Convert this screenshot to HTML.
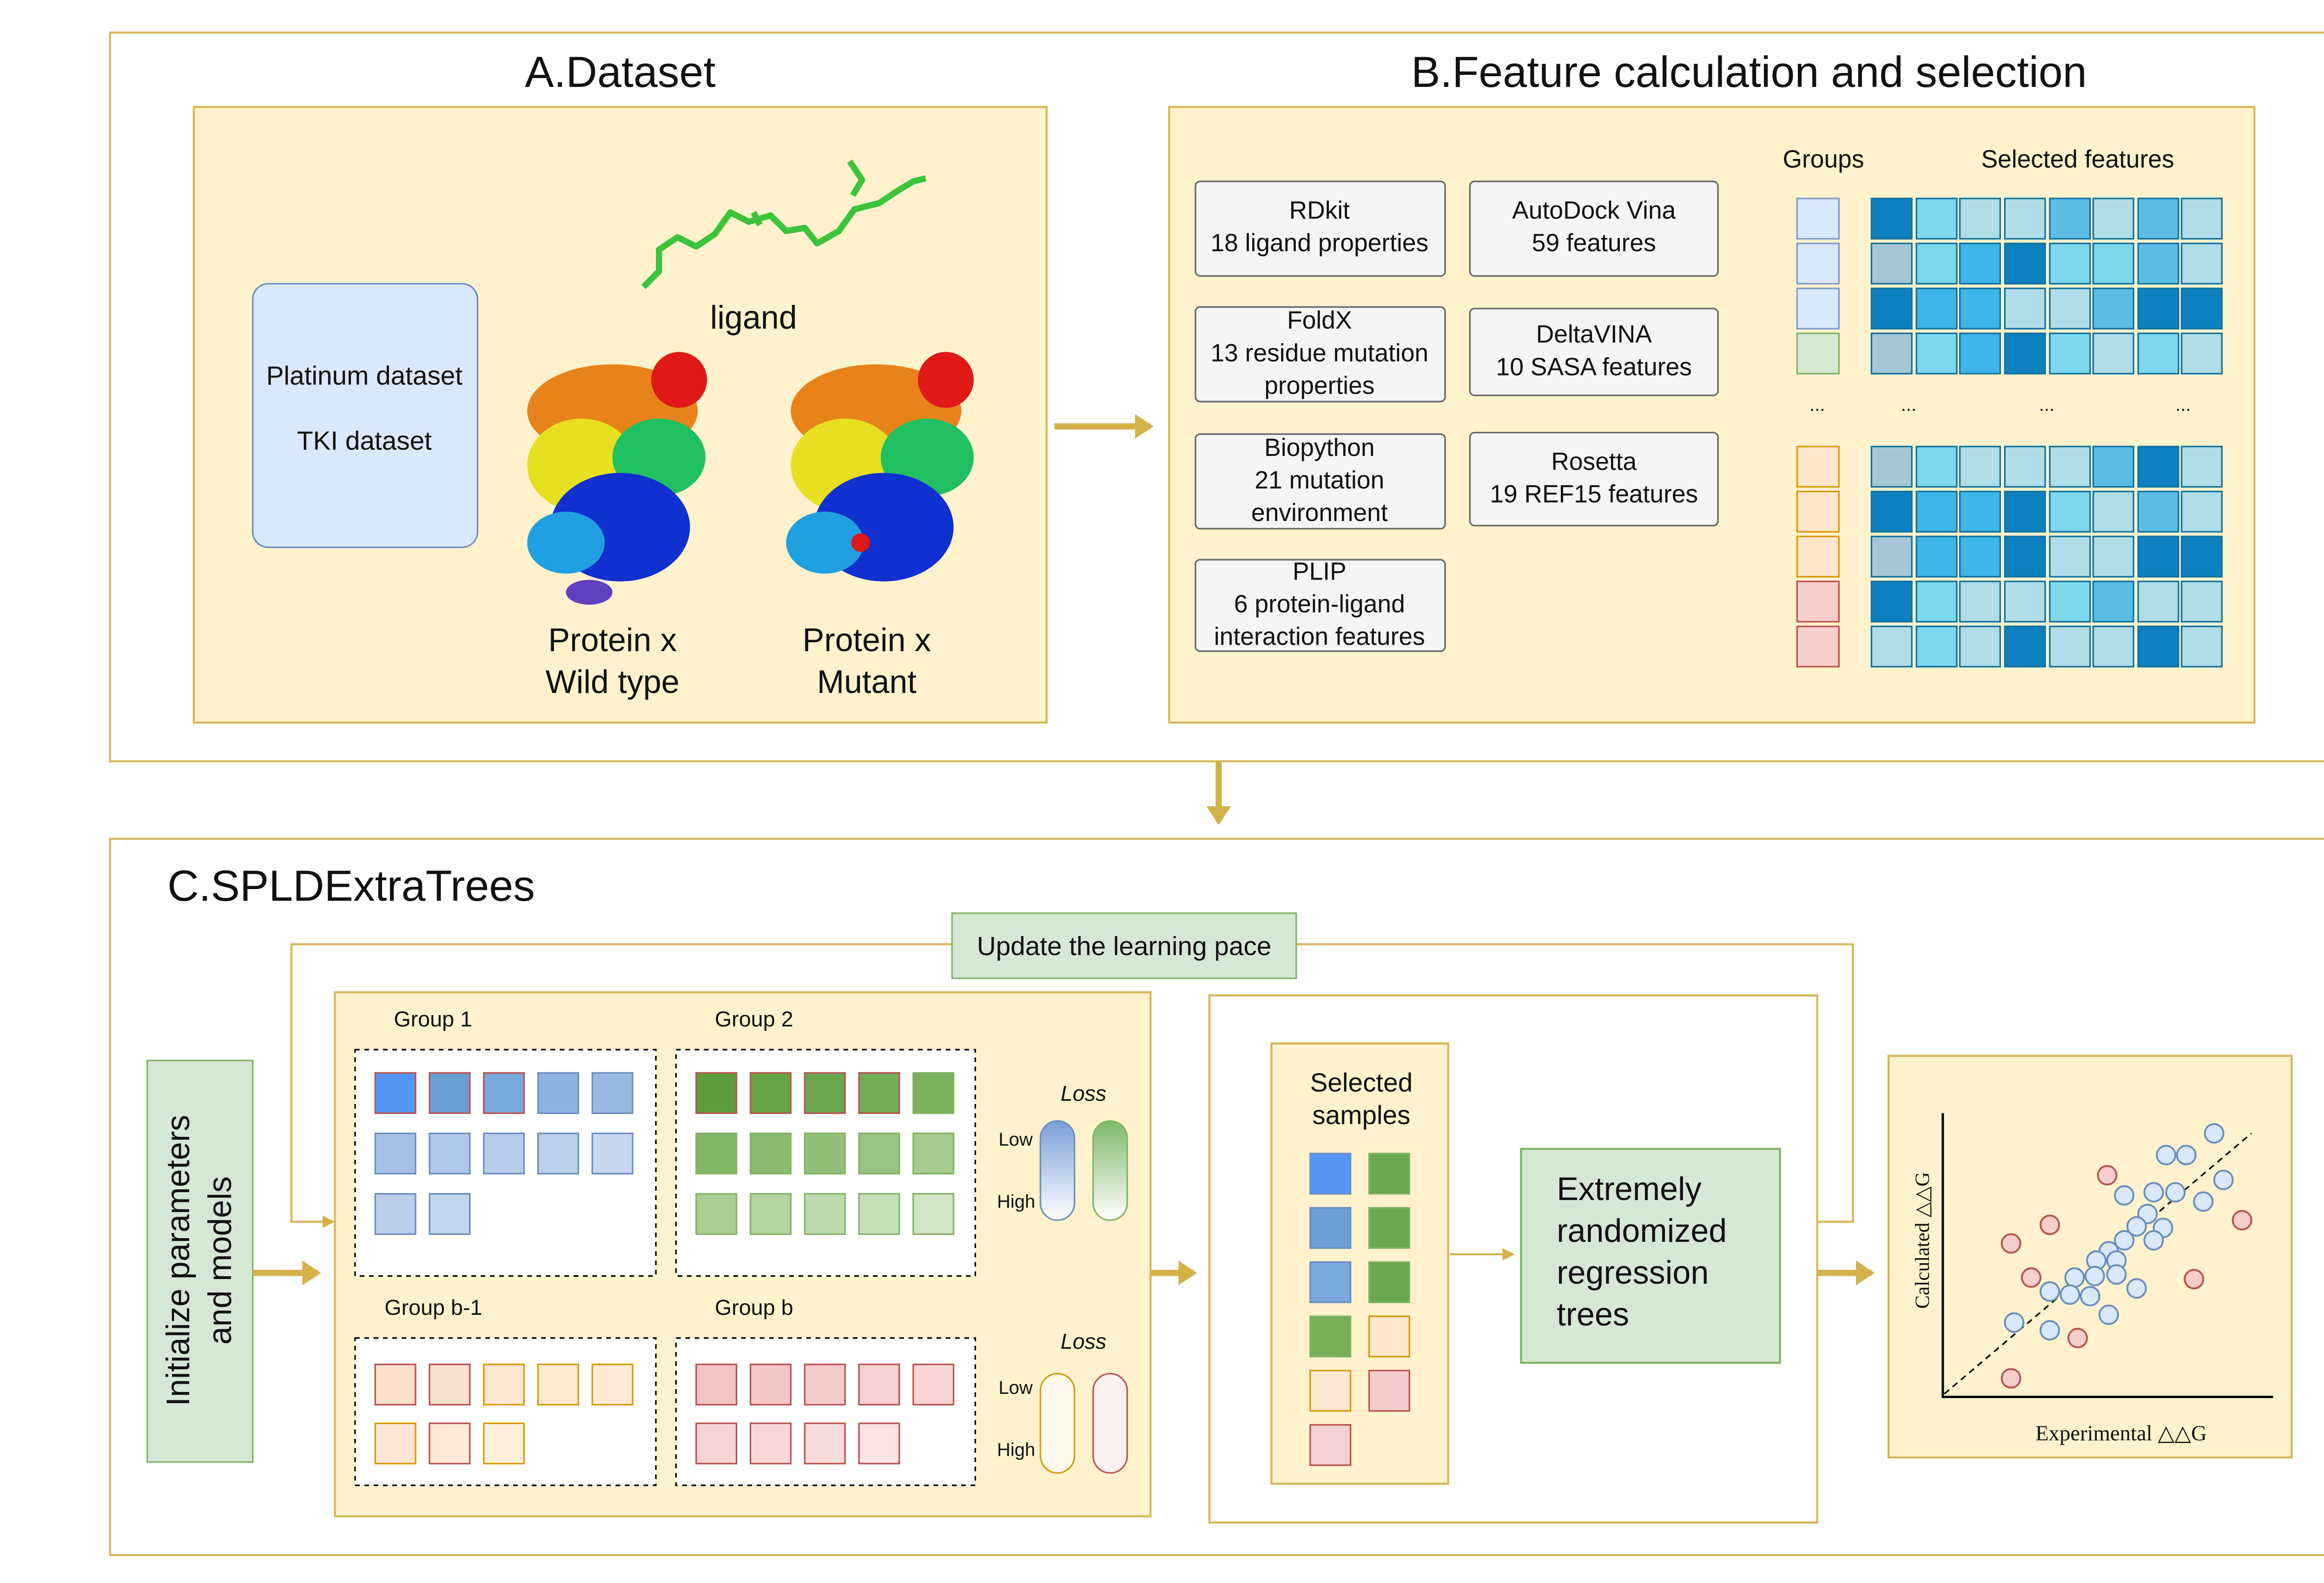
<!DOCTYPE html>
<html><head><meta charset="utf-8"><style>
html,body{margin:0;padding:0;background:#fff;width:5204px;height:3406px;overflow:hidden;}
svg{display:block;}
text{font-family:"Liberation Sans",sans-serif;fill:#111;}
</style></head><body>
<svg width="5204" height="3406" viewBox="0 0 1560 1021" xmlns="http://www.w3.org/2000/svg">
<defs>
<marker id="ah" markerWidth="4" markerHeight="4" refX="2.5" refY="2" orient="auto" markerUnits="strokeWidth"><path d="M0,0 L3,2 L0,4 Z" fill="#d4b24a"/></marker>
<marker id="as" markerWidth="8" markerHeight="8" refX="6" refY="4" orient="auto" markerUnits="userSpaceOnUse"><path d="M0,0 L8,4 L0,8 Z" fill="#d4b24a"/></marker>
<linearGradient id="gb" x1="0" y1="0" x2="0" y2="1"><stop offset="0" stop-color="#7a9fd6"/><stop offset="1" stop-color="#fff"/></linearGradient>
<linearGradient id="gg" x1="0" y1="0" x2="0" y2="1"><stop offset="0" stop-color="#7fb86a"/><stop offset="1" stop-color="#fff"/></linearGradient>
</defs>
<g fill="none" stroke="#d6b656" stroke-width="1.3">
<rect x="71" y="21" width="1432" height="470"/>
<rect x="71" y="541" width="1432" height="462"/>
</g>
<rect x="125" y="69" width="550" height="397" fill="#fff2cc" stroke="#d6b656" stroke-width="1.3"/>
<rect x="754" y="69" width="700" height="397" fill="#fff2cc" stroke="#d6b656" stroke-width="1.3"/>
<text x="400" y="56" font-size="28" text-anchor="middle">A.Dataset</text>
<text x="1128" y="56" font-size="28" text-anchor="middle">B.Feature calculation and  selection</text>
<rect x="163" y="183" width="145" height="170" rx="10" fill="#dae8fc" stroke="#6c8ebf"/>
<text x="235" y="248" font-size="17" text-anchor="middle">Platinum dataset</text>
<text x="235" y="290" font-size="17" text-anchor="middle">TKI dataset</text>
<g stroke="#3cc43c" stroke-width="4" fill="none" stroke-linejoin="round">
<path d="M415,185 l10,-10 l0,-14 l12,-8 l12,6 l12,-8 l10,-14 l12,6 l14,-4 l10,10 l12,-2 l8,10 l14,-8 l10,-14 l16,-4 l12,-8 l10,-6 l8,-2"/>
<path d="M486,137 l4,8 M548,104 l8,12 l-6,10"/>
</g>
<text x="486" y="212" font-size="21" text-anchor="middle">ligand</text>
<g>
<ellipse cx="395" cy="265" rx="55" ry="30" fill="#e8821a"/>
<ellipse cx="438" cy="245" rx="18" ry="18" fill="#e01818"/>
<ellipse cx="375" cy="300" rx="35" ry="30" fill="#e6e020"/>
<ellipse cx="425" cy="295" rx="30" ry="25" fill="#20c060"/>
<ellipse cx="400" cy="340" rx="45" ry="35" fill="#1030d0"/>
<ellipse cx="365" cy="350" rx="25" ry="20" fill="#20a0e0"/>
<ellipse cx="380" cy="382" rx="15" ry="8" fill="#6040c0"/>
<ellipse cx="565" cy="265" rx="55" ry="30" fill="#e8821a"/>
<ellipse cx="610" cy="245" rx="18" ry="18" fill="#e01818"/>
<ellipse cx="545" cy="300" rx="35" ry="30" fill="#e6e020"/>
<ellipse cx="598" cy="295" rx="30" ry="25" fill="#20c060"/>
<ellipse cx="570" cy="340" rx="45" ry="35" fill="#1030d0"/>
<ellipse cx="532" cy="350" rx="25" ry="20" fill="#20a0e0"/>
<circle cx="555" cy="350" r="6" fill="#e01818"/>
</g>
<text x="395" y="420" font-size="21" text-anchor="middle">Protein x</text>
<text x="395" y="447" font-size="21" text-anchor="middle">Wild type</text>
<text x="559" y="420" font-size="21" text-anchor="middle">Protein x</text>
<text x="559" y="447" font-size="21" text-anchor="middle">Mutant</text>
<line x1="680" y1="275" x2="742" y2="275" stroke="#d4b24a" stroke-width="4" marker-end="url(#ah)"/>
<g fill="#f5f5f5" stroke="#666" stroke-width="1">
<rect x="771" y="117" width="161" height="61" rx="3"/>
<rect x="771" y="198" width="161" height="61" rx="3"/>
<rect x="771" y="280" width="161" height="61" rx="3"/>
<rect x="771" y="361" width="161" height="59" rx="3"/>
<rect x="948" y="117" width="160" height="61" rx="3"/>
<rect x="948" y="199" width="160" height="56" rx="3"/>
<rect x="948" y="279" width="160" height="60" rx="3"/>
</g>
<g font-size="16" text-anchor="middle">
<text x="851" y="141">RDkit</text><text x="851" y="162">18 ligand properties</text>
<text x="851" y="212">FoldX</text><text x="851" y="233">13 residue mutation</text><text x="851" y="254">properties</text>
<text x="851" y="294">Biopython</text><text x="851" y="315">21 mutation</text><text x="851" y="336">environment</text>
<text x="851" y="374">PLIP</text><text x="851" y="395">6 protein-ligand</text><text x="851" y="416">interaction features</text>
<text x="1028" y="141">AutoDock Vina</text><text x="1028" y="162">59 features</text>
<text x="1028" y="221">DeltaVINA</text><text x="1028" y="242">10 SASA features</text>
<text x="1028" y="303">Rosetta</text><text x="1028" y="324">19 REF15 features</text>
<text x="1176" y="108">Groups</text><text x="1340" y="108">Selected features</text>
</g>
<g stroke-width="1">
<rect x="1159" y="128" width="27" height="26" fill="#dae8fc" stroke="#7c9ccc"/>
<rect x="1159" y="157" width="27" height="26" fill="#dae8fc" stroke="#7c9ccc"/>
<rect x="1159" y="186" width="27" height="26" fill="#dae8fc" stroke="#7c9ccc"/>
<rect x="1159" y="215" width="27" height="26" fill="#d5e8d4" stroke="#82b366"/>
<rect x="1159" y="288" width="27" height="26" fill="#ffe6cc" stroke="#d79b00"/>
<rect x="1159" y="317" width="27" height="26" fill="#ffe6cc" stroke="#d79b00"/>
<rect x="1159" y="346" width="27" height="26" fill="#ffe6cc" stroke="#d79b00"/>
<rect x="1159" y="375" width="27" height="26" fill="#f8cecc" stroke="#b85450"/>
<rect x="1159" y="404" width="27" height="26" fill="#f8cecc" stroke="#b85450"/>
</g>
<g stroke="#10739e" stroke-width="1">
<g transform="translate(1207,128)">
<rect x="0" width="26" height="26" fill="#0e7fbf"/><rect x="29" width="26" height="26" fill="#7dd8ee"/><rect x="57" width="26" height="26" fill="#b1dde8"/><rect x="86" width="26" height="26" fill="#b1dde8"/><rect x="115" width="26" height="26" fill="#5bbde6"/><rect x="143" width="26" height="26" fill="#b1dde8"/><rect x="172" width="26" height="26" fill="#5bbde6"/><rect x="200" width="26" height="26" fill="#b1dde8"/>
</g>
<g transform="translate(1207,157)">
<rect x="0" width="26" height="26" fill="#a6c6d6"/><rect x="29" width="26" height="26" fill="#7dd8ee"/><rect x="57" width="26" height="26" fill="#3eb5e8"/><rect x="86" width="26" height="26" fill="#0e7fbf"/><rect x="115" width="26" height="26" fill="#7dd8ee"/><rect x="143" width="26" height="26" fill="#7dd8ee"/><rect x="172" width="26" height="26" fill="#5bbde6"/><rect x="200" width="26" height="26" fill="#b1dde8"/>
</g>
<g transform="translate(1207,186)">
<rect x="0" width="26" height="26" fill="#0e7fbf"/><rect x="29" width="26" height="26" fill="#3eb5e8"/><rect x="57" width="26" height="26" fill="#3eb5e8"/><rect x="86" width="26" height="26" fill="#b1dde8"/><rect x="115" width="26" height="26" fill="#b1dde8"/><rect x="143" width="26" height="26" fill="#5bbde6"/><rect x="172" width="26" height="26" fill="#0e7fbf"/><rect x="200" width="26" height="26" fill="#0e7fbf"/>
</g>
<g transform="translate(1207,215)">
<rect x="0" width="26" height="26" fill="#a6c6d6"/><rect x="29" width="26" height="26" fill="#7dd8ee"/><rect x="57" width="26" height="26" fill="#3eb5e8"/><rect x="86" width="26" height="26" fill="#0e7fbf"/><rect x="115" width="26" height="26" fill="#7dd8ee"/><rect x="143" width="26" height="26" fill="#b1dde8"/><rect x="172" width="26" height="26" fill="#7dd8ee"/><rect x="200" width="26" height="26" fill="#b1dde8"/>
</g>
<g transform="translate(1207,288)">
<rect x="0" width="26" height="26" fill="#a6c6d6"/><rect x="29" width="26" height="26" fill="#7dd8ee"/><rect x="57" width="26" height="26" fill="#b1dde8"/><rect x="86" width="26" height="26" fill="#b1dde8"/><rect x="115" width="26" height="26" fill="#b1dde8"/><rect x="143" width="26" height="26" fill="#5bbde6"/><rect x="172" width="26" height="26" fill="#0e7fbf"/><rect x="200" width="26" height="26" fill="#b1dde8"/>
</g>
<g transform="translate(1207,317)">
<rect x="0" width="26" height="26" fill="#0e7fbf"/><rect x="29" width="26" height="26" fill="#3eb5e8"/><rect x="57" width="26" height="26" fill="#3eb5e8"/><rect x="86" width="26" height="26" fill="#0e7fbf"/><rect x="115" width="26" height="26" fill="#7dd8ee"/><rect x="143" width="26" height="26" fill="#b1dde8"/><rect x="172" width="26" height="26" fill="#5bbde6"/><rect x="200" width="26" height="26" fill="#b1dde8"/>
</g>
<g transform="translate(1207,346)">
<rect x="0" width="26" height="26" fill="#a6c6d6"/><rect x="29" width="26" height="26" fill="#3eb5e8"/><rect x="57" width="26" height="26" fill="#3eb5e8"/><rect x="86" width="26" height="26" fill="#0e7fbf"/><rect x="115" width="26" height="26" fill="#b1dde8"/><rect x="143" width="26" height="26" fill="#b1dde8"/><rect x="172" width="26" height="26" fill="#0e7fbf"/><rect x="200" width="26" height="26" fill="#0e7fbf"/>
</g>
<g transform="translate(1207,375)">
<rect x="0" width="26" height="26" fill="#0e7fbf"/><rect x="29" width="26" height="26" fill="#7dd8ee"/><rect x="57" width="26" height="26" fill="#b1dde8"/><rect x="86" width="26" height="26" fill="#b1dde8"/><rect x="115" width="26" height="26" fill="#7dd8ee"/><rect x="143" width="26" height="26" fill="#5bbde6"/><rect x="172" width="26" height="26" fill="#b1dde8"/><rect x="200" width="26" height="26" fill="#b1dde8"/>
</g>
<g transform="translate(1207,404)">
<rect x="0" width="26" height="26" fill="#b1dde8"/><rect x="29" width="26" height="26" fill="#7dd8ee"/><rect x="57" width="26" height="26" fill="#b1dde8"/><rect x="86" width="26" height="26" fill="#0e7fbf"/><rect x="115" width="26" height="26" fill="#b1dde8"/><rect x="143" width="26" height="26" fill="#b1dde8"/><rect x="172" width="26" height="26" fill="#0e7fbf"/><rect x="200" width="26" height="26" fill="#b1dde8"/>
</g>
</g>
<g font-size="12" text-anchor="middle"><text x="1172" y="265">...</text><text x="1231" y="265">...</text><text x="1320" y="265">...</text><text x="1408" y="265">...</text></g>
<line x1="786" y1="491" x2="786" y2="530" stroke="#d4b24a" stroke-width="4" marker-end="url(#ah)"/>
<text x="108" y="581" font-size="28">C.SPLDExtraTrees</text>
<polyline points="1172,788 1195,788 1195,609 836,609" fill="none" stroke="#d6b656" stroke-width="1.3"/>
<polyline points="614,609 188,609 188,788 214,788" fill="none" stroke="#d6b656" stroke-width="1.3" marker-end="url(#as)"/>
<rect x="614" y="589" width="222" height="42" fill="#d5e8d4" stroke="#82b366"/>
<text x="725" y="616" font-size="17" text-anchor="middle">Update the learning pace</text>
<rect x="95" y="684" width="68" height="259" fill="#d5e8d4" stroke="#82b366"/>
<text transform="translate(122,813) rotate(-90)" font-size="21" text-anchor="middle">Initialize parameters</text>
<text transform="translate(149,813) rotate(-90)" font-size="21" text-anchor="middle">and models</text>
<line x1="163" y1="821" x2="205" y2="821" stroke="#d4b24a" stroke-width="4" marker-end="url(#ah)"/>
<rect x="216" y="640" width="526" height="338" fill="#fff2cc" stroke="#d6b656" stroke-width="1.3"/>
<g fill="#fff" stroke="#000" stroke-width="1" stroke-dasharray="3,3">
<rect x="229" y="677" width="194" height="146"/><rect x="436" y="677" width="193" height="146"/>
<rect x="229" y="863" width="194" height="95"/><rect x="436" y="863" width="193" height="95"/>
</g>
<g font-size="14"><text x="254" y="662">Group 1</text><text x="461" y="662">Group 2</text><text x="248" y="848">Group b-1</text><text x="461" y="848">Group b</text></g>
<g stroke-width="1">
<rect x="242" y="692" width="26" height="26" fill="#5596f5" stroke="#b85450"/><rect x="277" y="692" width="26" height="26" fill="#6a9fd6" stroke="#b85450"/><rect x="312" y="692" width="26" height="26" fill="#7aa7dc" stroke="#b85450"/><rect x="347" y="692" width="26" height="26" fill="#8cb2e0" stroke="#6c8ebf"/><rect x="382" y="692" width="26" height="26" fill="#9ab9e2" stroke="#6c8ebf"/>
<rect x="242" y="731" width="26" height="26" fill="#a6c1e6" stroke="#6c8ebf"/><rect x="277" y="731" width="26" height="26" fill="#afc7e9" stroke="#6c8ebf"/><rect x="312" y="731" width="26" height="26" fill="#b5ccea" stroke="#6c8ebf"/><rect x="347" y="731" width="26" height="26" fill="#bcd1ec" stroke="#6c8ebf"/><rect x="382" y="731" width="26" height="26" fill="#c6d7ef" stroke="#6c8ebf"/>
<rect x="242" y="770" width="26" height="26" fill="#bccfec" stroke="#6c8ebf"/><rect x="277" y="770" width="26" height="26" fill="#c2d4ee" stroke="#6c8ebf"/>
<rect x="449" y="692" width="26" height="26" fill="#5e9e3a" stroke="#b85450"/><rect x="484" y="692" width="26" height="26" fill="#66a544" stroke="#b85450"/><rect x="519" y="692" width="26" height="26" fill="#6aa84f" stroke="#b85450"/><rect x="554" y="692" width="26" height="26" fill="#72ad55" stroke="#b85450"/><rect x="589" y="692" width="26" height="26" fill="#7ab15d" stroke="#82b366"/>
<rect x="449" y="731" width="26" height="26" fill="#82b665" stroke="#82b366"/><rect x="484" y="731" width="26" height="26" fill="#8abb6e" stroke="#82b366"/><rect x="519" y="731" width="26" height="26" fill="#92c078" stroke="#82b366"/><rect x="554" y="731" width="26" height="26" fill="#9ac482" stroke="#82b366"/><rect x="589" y="731" width="26" height="26" fill="#a6cb90" stroke="#82b366"/>
<rect x="449" y="770" width="26" height="26" fill="#aacf95" stroke="#82b366"/><rect x="484" y="770" width="26" height="26" fill="#b4d4a1" stroke="#82b366"/><rect x="519" y="770" width="26" height="26" fill="#bedaae" stroke="#82b366"/><rect x="554" y="770" width="26" height="26" fill="#c8e0ba" stroke="#82b366"/><rect x="589" y="770" width="26" height="26" fill="#d2e6c6" stroke="#82b366"/>
<rect x="242" y="880" width="26" height="26" fill="#fbe0cc" stroke="#b85450"/><rect x="277" y="880" width="26" height="26" fill="#fbe2cf" stroke="#b85450"/><rect x="312" y="880" width="26" height="26" fill="#fce6cf" stroke="#d79b00"/><rect x="347" y="880" width="26" height="26" fill="#fde8d2" stroke="#d79b00"/><rect x="382" y="880" width="26" height="26" fill="#fdead6" stroke="#d79b00"/>
<rect x="242" y="918" width="26" height="26" fill="#fde6d8" stroke="#d79b00"/><rect x="277" y="918" width="26" height="26" fill="#fde8da" stroke="#b85450"/><rect x="312" y="918" width="26" height="26" fill="#feefdc" stroke="#d79b00"/>
<rect x="449" y="880" width="26" height="26" fill="#f3c4c4" stroke="#b85450"/><rect x="484" y="880" width="26" height="26" fill="#f3c8c8" stroke="#b85450"/><rect x="519" y="880" width="26" height="26" fill="#f4cccc" stroke="#b85450"/><rect x="554" y="880" width="26" height="26" fill="#f5d0d0" stroke="#b85450"/><rect x="589" y="880" width="26" height="26" fill="#f6d4d4" stroke="#b85450"/>
<rect x="449" y="918" width="26" height="26" fill="#f6d4d4" stroke="#b85450"/><rect x="484" y="918" width="26" height="26" fill="#f7d8d8" stroke="#b85450"/><rect x="519" y="918" width="26" height="26" fill="#f8dcdc" stroke="#b85450"/><rect x="554" y="918" width="26" height="26" fill="#fae4e4" stroke="#b85450"/>
</g>
<g font-size="12">
<text x="684" y="710" font-size="14" font-style="italic">Loss</text>
<text x="644" y="739">Low</text><text x="643" y="779">High</text>
<text x="684" y="870" font-size="14" font-style="italic">Loss</text>
<text x="644" y="899">Low</text><text x="643" y="939">High</text>
</g>
<rect x="671" y="723" width="22" height="64" rx="11" fill="url(#gb)" stroke="#6c8ebf"/>
<rect x="705" y="723" width="22" height="64" rx="11" fill="url(#gg)" stroke="#82b366"/>
<rect x="671" y="886" width="22" height="64" rx="11" fill="#fff8ec" stroke="#d79b00"/>
<rect x="705" y="886" width="22" height="64" rx="11" fill="#fdf0f0" stroke="#b85450"/>
<line x1="742" y1="821" x2="770" y2="821" stroke="#d4b24a" stroke-width="4" marker-end="url(#ah)"/>
<rect x="780" y="642" width="392" height="340" fill="#fff" stroke="#d6b656" stroke-width="1.3"/>
<rect x="820" y="673" width="114" height="284" fill="#fff2cc" stroke="#d6b656" stroke-width="1.3"/>
<text x="878" y="704" font-size="17" text-anchor="middle">Selected</text>
<text x="878" y="725" font-size="17" text-anchor="middle">samples</text>
<g stroke-width="1">
<rect x="845" y="744" width="26" height="26" fill="#5596f5" stroke="#6c8ebf"/><rect x="883" y="744" width="26" height="26" fill="#6aa84f" stroke="#82b366"/>
<rect x="845" y="779" width="26" height="26" fill="#6a9fd6" stroke="#6c8ebf"/><rect x="883" y="779" width="26" height="26" fill="#6aa84f" stroke="#82b366"/>
<rect x="845" y="814" width="26" height="26" fill="#7aa7dc" stroke="#6c8ebf"/><rect x="883" y="814" width="26" height="26" fill="#6aa84f" stroke="#82b366"/>
<rect x="845" y="849" width="26" height="26" fill="#78b058" stroke="#82b366"/><rect x="883" y="849" width="26" height="26" fill="#ffe6cc" stroke="#d79b00"/>
<rect x="845" y="884" width="26" height="26" fill="#fbe8d4" stroke="#d79b00"/><rect x="883" y="884" width="26" height="26" fill="#f4cccc" stroke="#b85450"/>
<rect x="845" y="919" width="26" height="26" fill="#f4d0d0" stroke="#b85450"/>
</g>
<line x1="935" y1="809" x2="975" y2="809" stroke="#d4b24a" stroke-width="1.3" marker-end="url(#as)"/>
<rect x="981" y="741" width="167" height="138" fill="#d5e8d4" stroke="#82b366" stroke-width="1.3"/>
<g font-size="21"><text x="1004" y="774">Extremely</text><text x="1004" y="801">randomized</text><text x="1004" y="828">regression</text><text x="1004" y="855">trees</text></g>
<line x1="1172" y1="821" x2="1207" y2="821" stroke="#d4b24a" stroke-width="4" marker-end="url(#ah)"/>
<rect x="1218" y="681" width="260" height="259" fill="#fff2cc" stroke="#d6b656" stroke-width="1.3"/>
<polyline points="1253,718 1253,901 1466,901" fill="none" stroke="#000" stroke-width="1.5"/>
<line x1="1254" y1="899" x2="1452" y2="731" stroke="#000" stroke-width="1" stroke-dasharray="4,3"/>
<text transform="translate(1244,800) rotate(-90)" font-size="13" text-anchor="middle" style="font-family:'Liberation Serif',serif">Calculated △△G</text>
<text x="1368" y="929" font-size="14" text-anchor="middle" style="font-family:'Liberation Serif',serif">Experimental △△G</text>
<g fill="#dae8fc" stroke="#6c8ebf" stroke-width="1.2">
<circle cx="1428" cy="731" r="6"/><circle cx="1397" cy="745" r="6"/><circle cx="1410" cy="745" r="6"/><circle cx="1434" cy="761" r="6"/>
<circle cx="1370" cy="771" r="6"/><circle cx="1389" cy="769" r="6"/><circle cx="1403" cy="769" r="6"/><circle cx="1421" cy="775" r="6"/>
<circle cx="1385" cy="783" r="6"/><circle cx="1378" cy="791" r="6"/><circle cx="1395" cy="792" r="6"/><circle cx="1389" cy="800" r="6"/>
<circle cx="1370" cy="800" r="6"/><circle cx="1360" cy="807" r="6"/><circle cx="1352" cy="813" r="6"/><circle cx="1365" cy="813" r="6"/>
<circle cx="1338" cy="824" r="6"/><circle cx="1351" cy="823" r="6"/><circle cx="1365" cy="822" r="6"/><circle cx="1378" cy="831" r="6"/>
<circle cx="1322" cy="833" r="6"/><circle cx="1335" cy="835" r="6"/><circle cx="1348" cy="836" r="6"/><circle cx="1360" cy="848" r="6"/>
<circle cx="1299" cy="853" r="6"/><circle cx="1322" cy="858" r="6"/>
</g>
<g fill="#f8cecc" stroke="#b85450" stroke-width="1.2">
<circle cx="1359" cy="758" r="6"/><circle cx="1322" cy="790" r="6"/><circle cx="1297" cy="802" r="6"/><circle cx="1446" cy="787" r="6"/>
<circle cx="1310" cy="824" r="6"/><circle cx="1415" cy="825" r="6"/><circle cx="1340" cy="863" r="6"/><circle cx="1297" cy="889" r="6"/>
</g>
</svg>
</body></html>
